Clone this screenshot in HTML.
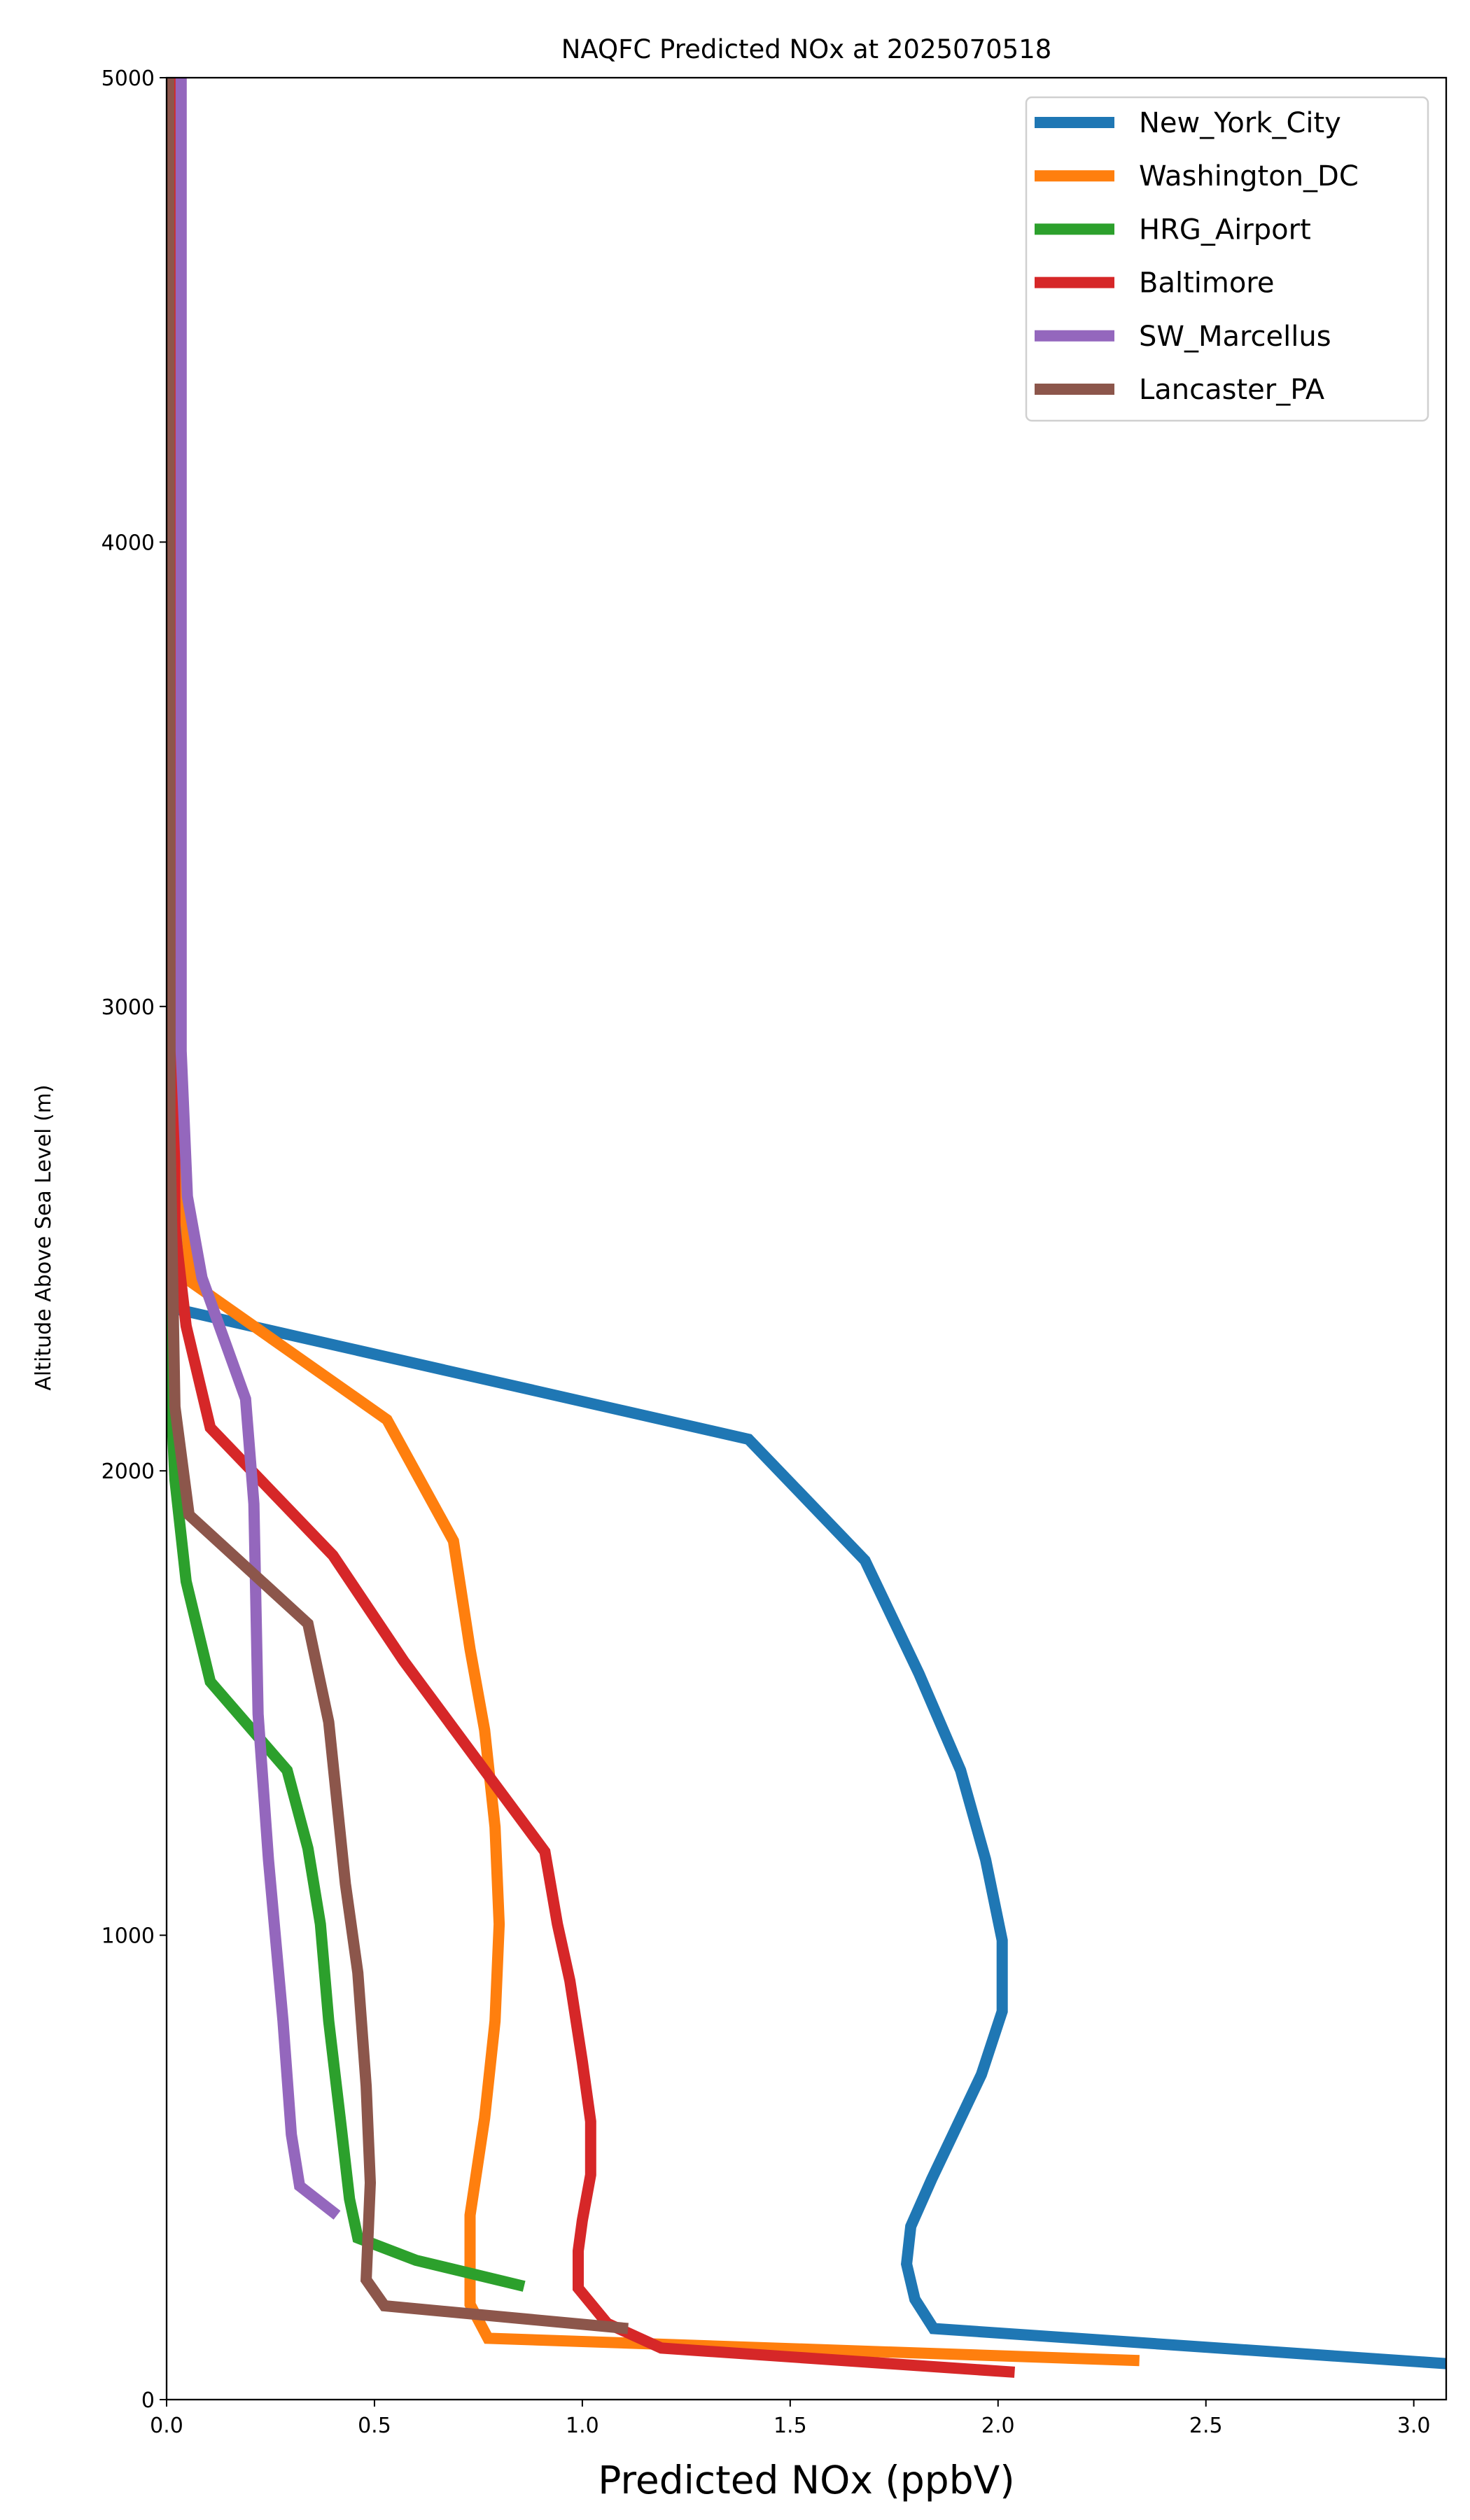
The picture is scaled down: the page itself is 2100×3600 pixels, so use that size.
<!DOCTYPE html>
<html><head><meta charset="utf-8"><style>
html,body{margin:0;padding:0;background:#fff;}
svg{display:block;font-family:"DejaVu Sans","Liberation Sans",sans-serif;}
</style></head><body>
<svg id="chart" width="2100" height="3600" viewBox="0 0 2100 3600" xmlns="http://www.w3.org/2000/svg">
<defs><clipPath id="plotclip"><rect x="238" y="111" width="1828" height="3317"/></clipPath></defs>
<rect width="2100" height="3600" fill="#fff"/>
<g id="series" clip-path="url(#plotclip)"></g>
<g id="axes"></g>
</svg>
<script>
const seriesNames = ["New_York_City","Washington_DC","HRG_Airport","Baltimore","SW_Marcellus","Lancaster_PA"];
const seriesColors = ["#1f77b4","#ff7f0e","#2ca02c","#d62728","#9467bd","#8c564b"];
const nycX = [3.2,1.845,1.80,1.78,1.79,1.84,1.96,2.01,2.01,1.97,1.91,1.81,1.68,1.40,0.03,0.02];
const nycY = [70,153,216,292,373,474,700,836,989,1163,1355,1563,1807,2068,2347,5000];
const dcX = [2.34,0.773,0.73,0.73,0.765,0.79,0.80,0.79,0.765,0.73,0.69,0.53,0.06,0.03,0.02];
const dcY = [84,132,205,397,606,815,1024,1233,1442,1616,1849,2110,2406,2695,5000];
const hrgX = [0.86,0.60,0.46,0.44,0.42,0.39,0.37,0.34,0.29,0.105,0.047,0.02,0.01,0.005];
const hrgY = [244,300,348,432,588,815,1024,1187,1355,1546,1762,1981,2173,5000];
const balX = [2.04,1.19,1.06,0.99,0.99,1.00,1.02,1.02,1.00,0.97,0.94,0.91,0.765,0.57,0.40,0.105,0.047,0.02,0.01];
const balY = [59,111,164,240,320,386,484,599,728,902,1024,1180,1355,1591,1818,2093,2312,2521,5000];
const swmX = [0.41,0.32,0.30,0.28,0.245,0.22,0.21,0.19,0.085,0.05,0.035,0.035];
const swmY = [397,460,571,815,1163,1476,1929,2155,2416,2591,2904,5000];
const lanX = [1.11,0.524,0.48,0.49,0.48,0.46,0.43,0.39,0.34,0.054,0.02,0.008,0.005];
const lanY = [153,202,258,467,675,919,1111,1459,1671,1905,2138,2730,5000];
const xTicks = [0,0.5,1.0,1.5,2.0,2.5,3.0];
const xTickLabels = ["0.0","0.5","1.0","1.5","2.0","2.5","3.0"];
const yTicks = [0,1000,2000,3000,4000,5000];
const yTickLabels = ["0","1000","2000","3000","4000","5000"];

const NS="http://www.w3.org/2000/svg";
const L=238,R=2066,T=111,B=3428,XMAX=3.078,YMAX=5000;
function sx(v){return L+v/XMAX*(R-L);}
function sy(v){return B-v/YMAX*(B-T);}
function mk(tag,attrs,parent){const e=document.createElementNS(NS,tag);for(const k in attrs)e.setAttribute(k,attrs[k]);parent.appendChild(e);return e;}
const svg=document.getElementById('chart');
const sg=document.getElementById('series');
const ag=document.getElementById('axes');
const allX=[nycX,dcX,hrgX,balX,swmX,lanX], allY=[nycY,dcY,hrgY,balY,swmY,lanY];
for(let i=0;i<allX.length;i++){
  const pts=allX[i].map((v,j)=>sx(v).toFixed(1)+","+sy(allY[i][j]).toFixed(1)).join(" ");
  const pl=mk('polyline',{points:pts,fill:'none',stroke:seriesColors[i],'stroke-width':16,'stroke-linejoin':'miter'},sg);
  
  
}
// frame
const fr=mk('rect',{x:L,y:T,width:R-L,height:B-T,fill:'none',stroke:'#000','stroke-width':2.3},ag);


xTicks.forEach((v,i)=>{
  const tk=mk('line',{x1:sx(v),x2:sx(v),y1:B,y2:B+10,stroke:'#000','stroke-width':2},ag);
  
  
  const t=mk('text',{x:sx(v),y:B+47,'font-size':30,'text-anchor':'middle'},ag);
  t.textContent=xTickLabels[i];
  
  
});
yTicks.forEach((v,i)=>{
  const tk=mk('line',{x1:L-10,x2:L,y1:sy(v),y2:sy(v),stroke:'#000','stroke-width':2},ag);
  
  
  const t=mk('text',{x:L-17,y:sy(v)+11,'font-size':30,'text-anchor':'end'},ag);
  t.textContent=yTickLabels[i];
  
  
});
const title=mk('text',{x:1152,y:83,'font-size':37,'text-anchor':'middle'},ag);
title.textContent="NAQFC Predicted NOx at 2025070518";


const xl=mk('text',{x:1152,y:3562,'font-size':55,'text-anchor':'middle'},ag);
xl.textContent="Predicted NOx (ppbV)";


const yl=mk('text',{x:0,y:0,'font-size':30,'text-anchor':'middle',transform:'translate(72,1768) rotate(-90)'},ag);
yl.textContent="Altitude Above Sea Level (m)";


// legend
const lg=mk('g',{},ag);


mk('rect',{x:1466,y:139,width:574,height:462,rx:8,fill:'#fff',stroke:'#d0d0d0','stroke-width':2.5},lg);
seriesNames.forEach((n,i)=>{
  const y=175+i*76.2;
  const ln=mk('line',{x1:1478,x2:1592,y1:y,y2:y,stroke:seriesColors[i],'stroke-width':16},lg);
  
  
  const t=mk('text',{x:1627,y:y+14,'font-size':40},lg);
  t.textContent=n;
  
  
});
</script>
</body></html>
